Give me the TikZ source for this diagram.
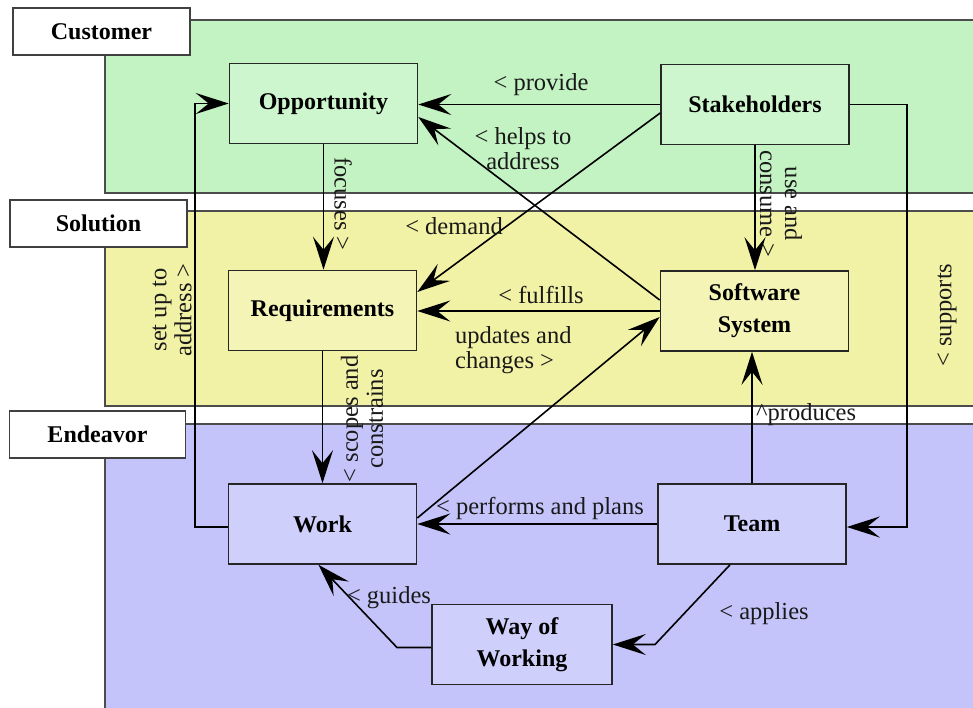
\documentclass[tikz,border=0pt]{standalone}
\usepackage{fontspec}
\setmainfont{Liberation Serif}
\usetikzlibrary{arrows.meta}
\definecolor{custband}{HTML}{C3F3C3}
\definecolor{custnode}{HTML}{CEF6CE}
\definecolor{solband}{HTML}{F2F2A6}
\definecolor{solnode}{HTML}{F4F4B6}
\definecolor{endband}{HTML}{C4C4FA}
\definecolor{endnode}{HTML}{CFCFFB}
\begin{document}
\begin{tikzpicture}[x=1pt,y=-1pt,
  box/.style={draw=black!85, line width=1.6pt, minimum width=188pt, minimum height=80pt,
    font=\fontsize{24}{32}\selectfont\bfseries, align=center, inner sep=0pt},
  lbl/.style={font=\fontsize{24.5}{25}\selectfont, inner sep=0pt, text=black!90},
  arr/.style={line width=1.6pt, draw=black, -{Stealth[length=33pt,width=21pt,inset=13pt]}},
  band/.style={draw=black!70, line width=1.6pt},
  tag/.style={draw=black!75, fill=white, line width=1.6pt, minimum width=177pt, minimum height=47pt,
    font=\fontsize{24}{28}\selectfont\bfseries, inner sep=0pt}
]
\useasboundingbox (0,0) rectangle (973,708);
\fill[white] (0,0) rectangle (973,708);
\clip (0,0) rectangle (973,708);

% swim lanes
\draw[band, fill=custband] (105,20) rectangle (990,193);
\draw[band, fill=solband] (105,211) rectangle (990,406);
\draw[band, fill=endband] (105,424) rectangle (990,720);

% lane titles
\node[tag] (tcust) at (101.5,31.5) {Customer};
\node[tag] (tsol) at (98.5,223.5) {Solution};
\node[tag, minimum width=176pt] (tend) at (97.5,434.5) {Endeavor};

% concepts
\node[box, fill=custnode] (opp) at (323.5,103.5) {Opportunity};
\node[box, fill=custnode] (stk) at (755,104.5) {Stakeholders};
\node[box, fill=solnode] (req) at (322.5,310.5) {Requirements};
\node[box, fill=solnode] (sys) at (754.5,311) {Software\\System};
\node[box, fill=endnode] (work) at (322.5,524) {Work};
\node[box, fill=endnode] (team) at (752,524) {Team};
\node[box, fill=endnode, minimum width=180pt] (wow) at (522,644.5) {Way of\\Working};

% bend points
\coordinate (setupcorner) at (195,527);
\coordinate (supcorner) at (907,104.5);
\coordinate (applybend) at (655,644.5);
\coordinate (guidebend) at (397,647.5);

% relations
\draw[arr] (stk.west) -- (stk.west -| opp.east);
\draw[arr] ([yshift=11pt]sys.west) -- ([yshift=-13.5pt]opp.east);
\draw[arr] ([yshift=-8.5pt]stk.west) -- ([yshift=18.5pt]req.east);
\draw[arr] (sys.west) -- (sys.west -| req.east);
\draw[arr] ([yshift=6pt]work.east) -- ([yshift=-6pt]sys.west);
\draw[arr] (opp.south) -- (opp.south |- req.north);
\draw[arr] (req.south) -- (req.south |- work.north);
\draw[arr] ([yshift=-3pt]work.west) -- (setupcorner) |- (opp.west);
\draw[arr] (stk.east) -- (supcorner) |- ([yshift=-3pt]team.east);
\draw[arr] (stk.south) -- (stk.south |- sys.north);
\draw[arr] (team.north) -- (team.north |- sys.south);
\draw[arr] (team.west) -- (team.west -| work.east);
\draw[arr] ([xshift=-22pt]team.south) -- (applybend) -- (wow.east);
\draw[arr] ([yshift=-3pt]wow.west) -- (guidebend) -- ([xshift=-4pt]work.south);

% relation labels
\node[lbl] (lprov) at (541,85) {< provide};
\node[lbl, align=center] (lhelp) at (523,149) {< helps to\\address};
\node[lbl] (ldem) at (454,226) {< demand};
\node[lbl] (lful) at (541,295) {< fulfills};
\node[lbl, align=left, anchor=west] (lupd) at (455,350) {updates and\\changes >};
\node[lbl, anchor=west] (lprod) at (756,415) {\textasciicircum produces};
\node[lbl] (lperf) at (540,508) {< performs and plans};
\node[lbl] (lapp) at (764,614) {< applies};
\node[lbl] (lguide) at (389,598) {< guides};
\node[lbl, rotate=-90] (lfoc) at (343,204) {focuses >};
\node[lbl, rotate=-90, align=center] (luse) at (781,204) {use and\\consume >};
\node[lbl, rotate=90, align=center] (lset) at (172,310) {set up to\\address >};
\node[lbl, rotate=90, align=center] (lscope) at (362,419) {< scopes and\\constrains};
\node[lbl, rotate=90] (lsup) at (947,315) {< supports};
\end{tikzpicture}
\end{document}
